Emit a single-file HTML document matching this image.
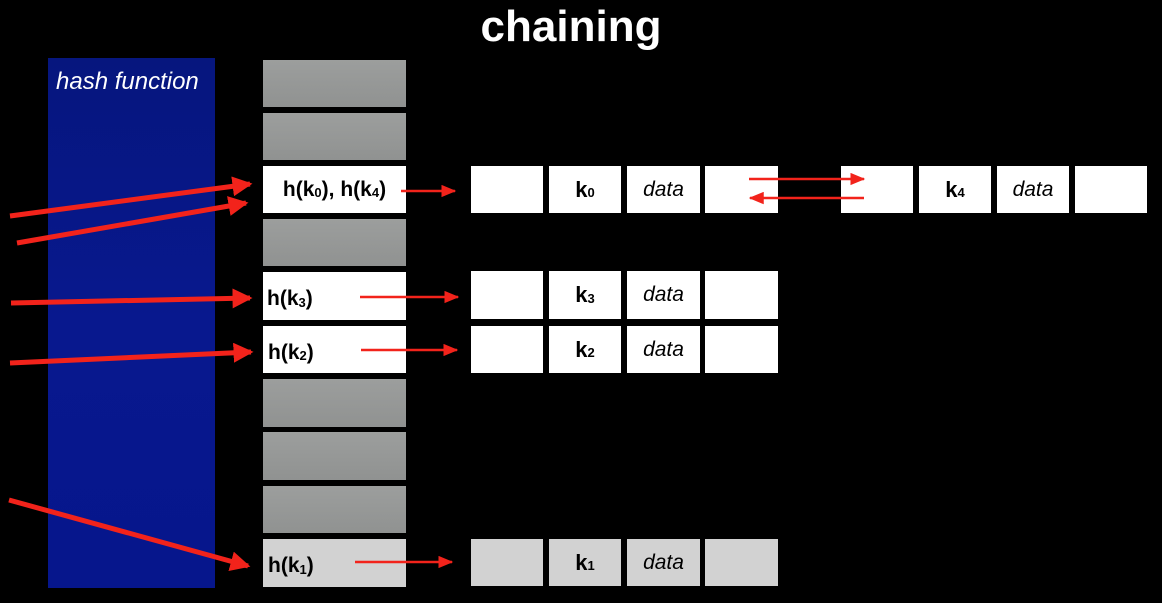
<!DOCTYPE html>
<html><head><meta charset="utf-8"><style>
body{margin:0;width:1162px;height:603px;background:#000;position:relative;overflow:hidden;font-family:"Liberation Sans",sans-serif}
.a{position:absolute}
.g{background:linear-gradient(#9c9e9d,#909291)}
.w{background:#fff}
.l{background:#d2d2d2}
.t{font-weight:bold;font-size:21px;color:#000;display:flex;align-items:center}
.c{display:flex;align-items:center;justify-content:center;font-size:21px;color:#000}
.d{font-style:italic}
.k{font-weight:bold;font-size:22px}
sub{font-size:13px;vertical-align:baseline;position:relative;top:3px}
</style></head><body>
<div class="a" style="width:1162px;text-align:center;top:2px;font-size:44px;font-weight:bold;color:#fff;left:-10px">chaining</div>
<div class="a" style="left:48px;top:58px;width:167px;height:530px;background:linear-gradient(#06167e,#08188e 50%,#06168c)"></div>
<div class="a" style="left:56px;top:68px;color:#fff;font-style:italic;font-size:24px">hash function</div>

<div class="a g" style="left:263px;top:60px;width:143px;height:47px"></div>
<div class="a g" style="left:263px;top:113px;width:143px;height:47px"></div>
<div class="a w t" style="left:263px;top:166px;width:143px;height:47px;justify-content:center">h(k<sub>0</sub>), h(k<sub>4</sub>)</div>
<div class="a g" style="left:263px;top:219px;width:143px;height:47px"></div>
<div class="a w t" style="left:263px;top:272px;height:48px;padding-left:4px;padding-top:6px;box-sizing:border-box;width:143px">h(k<sub>3</sub>)</div>
<div class="a w t" style="left:263px;top:326px;width:143px;height:47px;padding-left:5px;padding-top:6px;box-sizing:border-box">h(k<sub>2</sub>)</div>
<div class="a g" style="left:263px;top:379px;width:143px;height:48px"></div>
<div class="a g" style="left:263px;top:432px;width:143px;height:48px"></div>
<div class="a g" style="left:263px;top:486px;width:143px;height:47px"></div>
<div class="a l t" style="left:263px;top:539px;width:143px;height:48px;padding-left:5px;padding-top:6px;box-sizing:border-box">h(k<sub>1</sub>)</div>

<div class="a w" style="left:471px;top:166px;width:72px;height:47px"></div>
<div class="a w c k" style="left:549px;top:166px;width:72px;height:47px">k<sub>0</sub></div>
<div class="a w c d" style="left:627px;top:166px;width:73px;height:47px">data</div>
<div class="a w" style="left:705px;top:166px;width:73px;height:47px"></div>
<div class="a w" style="left:841px;top:166px;width:72px;height:47px"></div>
<div class="a w c k" style="left:919px;top:166px;width:72px;height:47px">k<sub>4</sub></div>
<div class="a w c d" style="left:997px;top:166px;width:72px;height:47px">data</div>
<div class="a w" style="left:1075px;top:166px;width:72px;height:47px"></div>

<div class="a w" style="left:471px;top:271px;width:72px;height:48px"></div>
<div class="a w c k" style="left:549px;top:271px;width:72px;height:48px">k<sub>3</sub></div>
<div class="a w c d" style="left:627px;top:271px;width:73px;height:48px">data</div>
<div class="a w" style="left:705px;top:271px;width:73px;height:48px"></div>

<div class="a w" style="left:471px;top:326px;width:72px;height:47px"></div>
<div class="a w c k" style="left:549px;top:326px;width:72px;height:47px">k<sub>2</sub></div>
<div class="a w c d" style="left:627px;top:326px;width:73px;height:47px">data</div>
<div class="a w" style="left:705px;top:326px;width:73px;height:47px"></div>

<div class="a l" style="left:471px;top:539px;width:72px;height:47px"></div>
<div class="a l c k" style="left:549px;top:539px;width:72px;height:47px">k<sub>1</sub></div>
<div class="a l c d" style="left:627px;top:539px;width:73px;height:47px">data</div>
<div class="a l" style="left:705px;top:539px;width:73px;height:47px"></div>

<svg class="a" style="left:0;top:0" width="1162" height="603">
<defs>
<marker id="m" markerWidth="4" markerHeight="4" refX="3.5" refY="2" orient="auto" markerUnits="strokeWidth"><path d="M0,0 L4,2 L0,4z" fill="#f2231b"/></marker>
<marker id="s" markerWidth="6" markerHeight="5" refX="5.5" refY="2.5" orient="auto" markerUnits="strokeWidth"><path d="M0,0 L6,2.5 L0,5z" fill="#f2231b"/></marker>
</defs>
<g stroke="#f2231b" fill="none">
<line x1="10" y1="216" x2="250" y2="184" stroke-width="5" marker-end="url(#m)"/>
<line x1="17" y1="243" x2="246" y2="203" stroke-width="5" marker-end="url(#m)"/>
<line x1="11" y1="303" x2="250" y2="298" stroke-width="5" marker-end="url(#m)"/>
<line x1="10" y1="363" x2="251" y2="352" stroke-width="5" marker-end="url(#m)"/>
<line x1="9" y1="500" x2="248" y2="566" stroke-width="5" marker-end="url(#m)"/>
<line x1="401" y1="191" x2="455" y2="191" stroke-width="2.5" marker-end="url(#s)"/>
<line x1="360" y1="297" x2="458" y2="297" stroke-width="2.5" marker-end="url(#s)"/>
<line x1="361" y1="350" x2="457" y2="350" stroke-width="2.5" marker-end="url(#s)"/>
<line x1="355" y1="562" x2="452" y2="562" stroke-width="2.5" marker-end="url(#s)"/>
<line x1="749" y1="179" x2="864" y2="179" stroke-width="2.5" marker-end="url(#s)"/>
<line x1="864" y1="198" x2="750" y2="198" stroke-width="2.5" marker-end="url(#s)"/>
</g>
</svg>
</body></html>
